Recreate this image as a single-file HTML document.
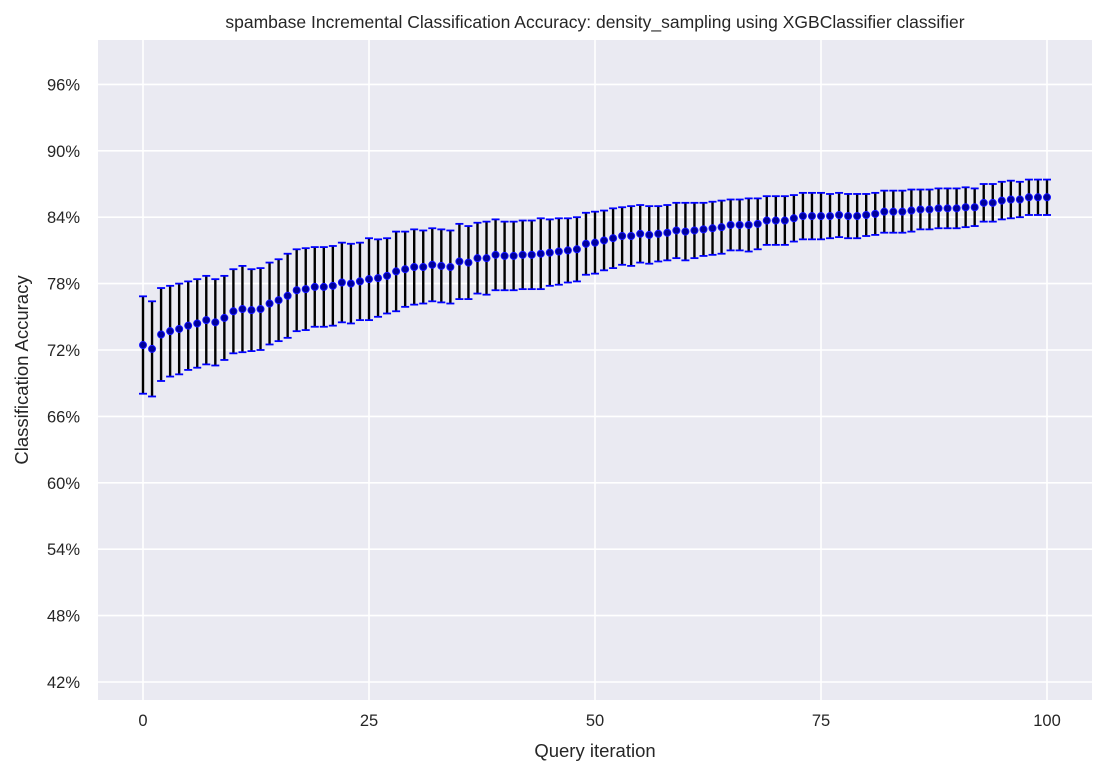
<!DOCTYPE html>
<html><head><meta charset="utf-8"><style>
body{margin:0;background:#fff;font-family:"Liberation Sans",sans-serif}
text{font-family:"Liberation Sans",sans-serif;fill:#262626}
</style></head><body>
<svg id="chart" width="1104" height="779">
<rect x="98" y="40" width="994" height="660" fill="#eaeaf2"/>
<g id="grid"></g><g id="marks"></g><g id="labels"></g>
<text x="595" y="28" text-anchor="middle" font-size="17.5">spambase Incremental Classification Accuracy: density_sampling using XGBClassifier classifier</text>
<text x="595" y="757" text-anchor="middle" font-size="18.5">Query iteration</text>
<text x="28" y="370" text-anchor="middle" font-size="18.5" transform="rotate(-90 28 370)">Classification Accuracy</text>
</svg>
<script>
const means=[72.45,72.1,73.4,73.7,73.9,74.2,74.4,74.7,74.5,74.9,75.5,75.7,75.6,75.7,76.2,76.5,76.9,77.4,77.5,77.7,77.7,77.8,78.1,78.0,78.2,78.4,78.5,78.7,79.1,79.3,79.5,79.5,79.7,79.6,79.5,80.0,79.9,80.3,80.3,80.6,80.5,80.5,80.6,80.6,80.7,80.8,80.9,81.0,81.1,81.6,81.7,81.9,82.1,82.3,82.3,82.5,82.4,82.5,82.6,82.8,82.7,82.8,82.9,83.0,83.1,83.3,83.3,83.3,83.4,83.7,83.7,83.7,83.9,84.1,84.1,84.1,84.1,84.2,84.1,84.1,84.2,84.3,84.5,84.5,84.5,84.6,84.7,84.7,84.8,84.8,84.8,84.9,84.9,85.3,85.3,85.5,85.6,85.6,85.8,85.8,85.8];
const errs=[4.4,4.3,4.2,4.1,4.1,4.0,4.0,4.0,3.9,3.8,3.8,3.9,3.7,3.7,3.7,3.7,3.8,3.7,3.7,3.6,3.6,3.6,3.6,3.6,3.5,3.7,3.5,3.4,3.6,3.4,3.4,3.3,3.3,3.3,3.3,3.4,3.3,3.2,3.3,3.2,3.1,3.1,3.1,3.1,3.2,3.0,3.0,2.9,2.9,2.8,2.8,2.7,2.7,2.6,2.7,2.6,2.6,2.5,2.5,2.5,2.6,2.5,2.4,2.4,2.4,2.3,2.3,2.4,2.3,2.2,2.2,2.2,2.1,2.1,2.1,2.1,2.0,2.0,2.0,2.0,1.9,1.9,1.9,1.9,1.9,1.9,1.8,1.8,1.8,1.8,1.8,1.8,1.7,1.7,1.7,1.7,1.7,1.6,1.6,1.6,1.6];
const xTicks=[0,25,50,75,100];
const yTicks=[42,48,54,60,66,72,78,84,90,96];
const NS="http://www.w3.org/2000/svg";
const xs=v=>143+v*9.04;
const ys=v=>350-(v-72)*66.4/6;
function mk(parent,tag,attrs){const e=document.createElementNS(NS,tag);for(const k in attrs)e.setAttribute(k,attrs[k]);document.getElementById(parent).appendChild(e);return e;}
xTicks.forEach(t=>{
 const l=mk('grid','line',{x1:xs(t),x2:xs(t),y1:40,y2:700,stroke:'#fff','stroke-width':1.6});
 
 
 const tx=mk('labels','text',{x:xs(t),y:726,'text-anchor':'middle','font-size':16.5});
 tx.textContent=t;
 
 
});
yTicks.forEach(t=>{
 const l=mk('grid','line',{x1:98,x2:1092,y1:ys(t),y2:ys(t),stroke:'#fff','stroke-width':1.6});
 
 
 const tx=mk('labels','text',{x:80,y:ys(t)+6,'text-anchor':'end','font-size':16.5});
 tx.textContent=t+'%';
 
 
});
means.forEach((m,i)=>{
 const x=xs(i),t=ys(m+errs[i]),b=ys(m-errs[i]);
 const l=mk('marks','line',{x1:x,x2:x,y1:t,y2:b,stroke:'#000','stroke-width':2.4});
 
 
 [t,b].forEach(y=>{const c=mk('marks','line',{x1:x-4,x2:x+4,y1:y,y2:y,stroke:'#0000ff','stroke-width':1.8});
  
  });
 const p=mk('marks','circle',{cx:x,cy:ys(m),r:3.5,fill:'#000099',stroke:'#1010ff','stroke-width':1});
 
 
});
</script>
</body></html>
